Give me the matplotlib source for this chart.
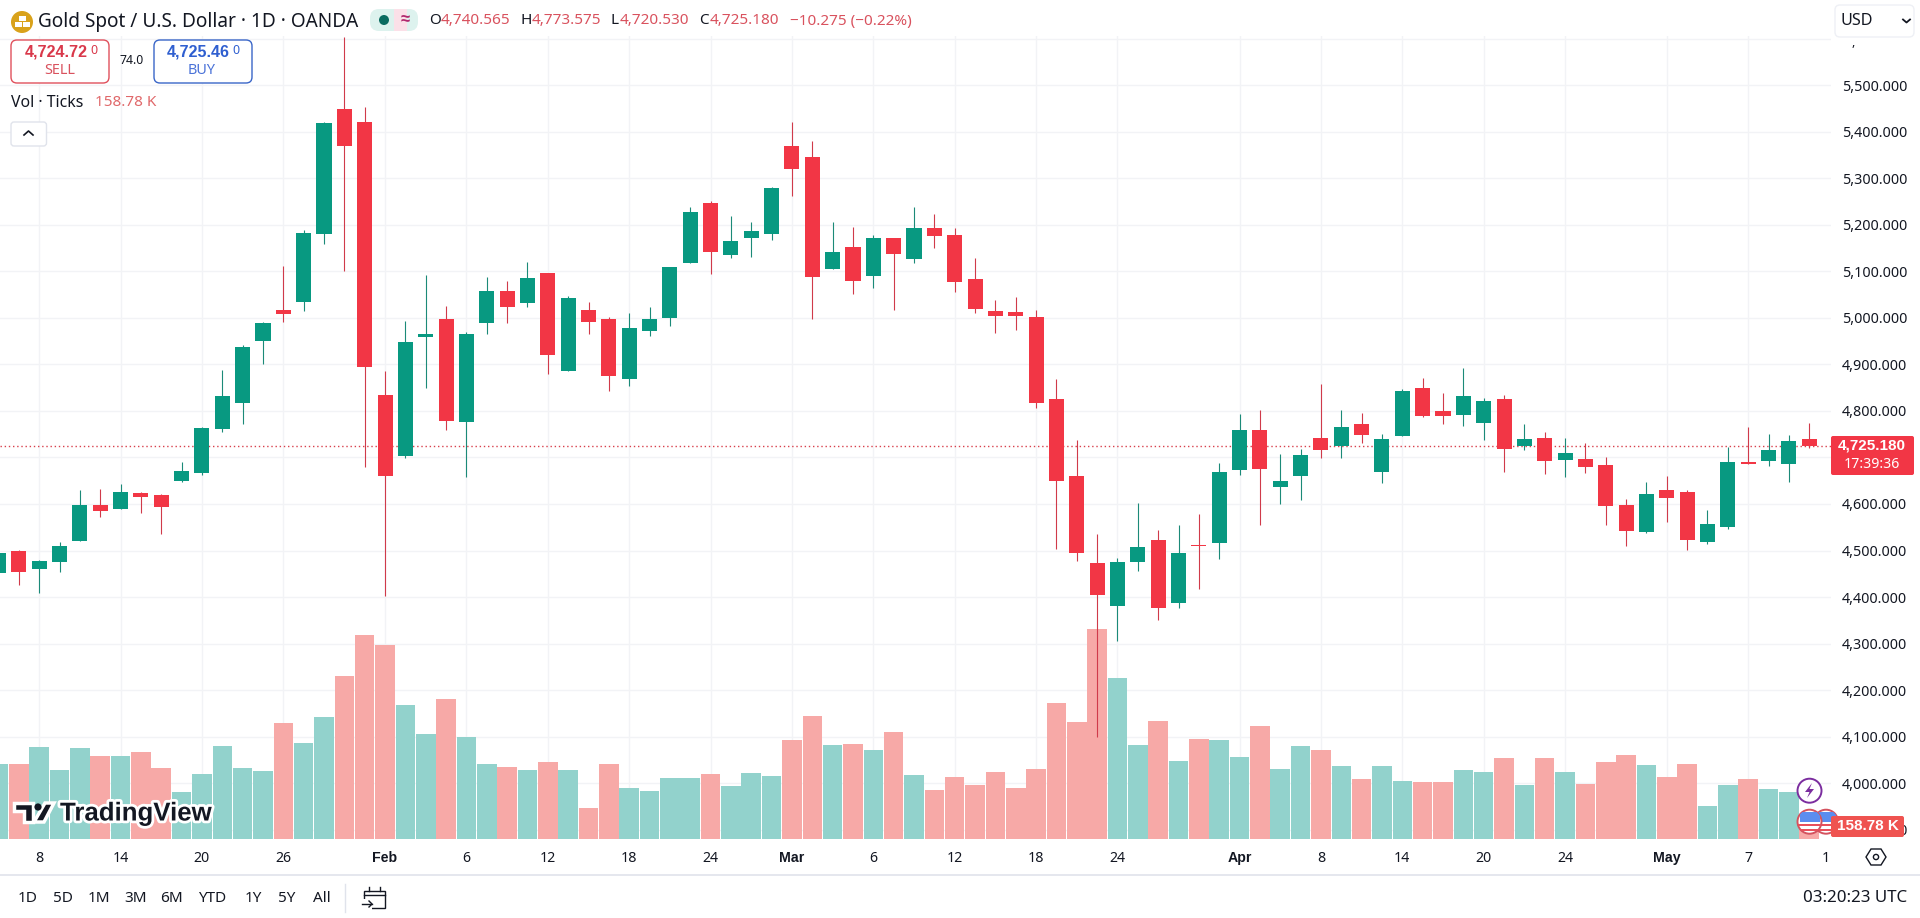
import matplotlib
matplotlib.use("Agg")
from matplotlib import pyplot as plt
from matplotlib.patches import Circle, FancyBboxPatch, Polygon, Rectangle, Wedge
from matplotlib.transforms import Affine2D
import matplotlib.patheffects as pe

plt.rcParams['font.family'] = ['Noto Sans', 'DejaVu Sans']
BOLD = ['Liberation Sans', 'DejaVu Sans']

W, H = 1920, 918

opens = [4452.3, 4499, 4460.7, 4476, 4521, 4597.5, 4589, 4623.8, 4619.6, 4648.5,
         4666, 4762, 4816, 4951, 5016, 5034, 5181, 5448.6, 5420.6, 4834.5,
         4702.8, 4959, 4997.6, 4776.7, 4989.9, 5057.9, 5032.4, 5096, 4886.3, 5017,
         4997.6, 4869.3, 4972, 5000.6, 5118.3, 5246.2, 5135.8, 5172.3, 5181, 5369.4,
         5345.6, 5105.6, 5152.4, 5090.5, 5171.5, 5127, 5193, 5177.9, 5083.3, 5014.9,
         5012.5, 5001.4, 4825.8, 4659.7, 4472.9, 4381.5, 4476, 4522, 4387.8, 4511.8,
         4516.6, 4674, 4759, 4637.5, 4661, 4741.9, 4724.7, 4772, 4669.7, 4746.9,
         4849.2, 4799.8, 4792, 4774.8, 4825.6, 4724.7, 4741.9, 4695.4, 4696.8, 4684,
         4598.1, 4538.8, 4630.3, 4626, 4519.4, 4551.6, 4689.7, 4693.3, 4686.8, 4740.565]
closes = [4494.7, 4454.8, 4477.7, 4510, 4597.5, 4585.6, 4624.7, 4615.3, 4593, 4670.6,
          4763, 4832, 4937, 4989, 5008.6, 5181.9, 5418.9, 5368.7, 4894, 4660.4,
          4948.3, 4965, 4779.3, 4965.3, 5057.9, 5023.9, 5085.9, 4921, 5042.6, 4991.6,
          4876, 4978, 4997.5, 5108.7, 5227, 5142, 5165, 5186.6, 5278.8, 5320.2,
          5088, 5141.3, 5080, 5171.5, 5138, 5193, 5176.3, 5077.7, 5019.7, 5004.6,
          5004.6, 4817.8, 4650, 4495.2, 4405.3, 4475.3, 4507, 4377.5, 4494.4, 4510.2,
          4668.4, 4759, 4675.6, 4649.6, 4705.4, 4716.9, 4765.5, 4749, 4739.8, 4842.8,
          4789.1, 4789.8, 4832, 4821.3, 4719, 4739.8, 4693.3, 4709.7, 4679.7, 4596.7,
          4543, 4621.7, 4613.9, 4523.7, 4557.3, 4690.4, 4686.8, 4716.2, 4735.5, 4725.18]
highs = [4500, 4501.5, 4480, 4518.5, 4629, 4633, 4643.4, 4625, 4620.4, 4690,
         4766, 4888, 4940.6, 4990.8, 5111.4, 5189.5, 5420.6, 5603, 5452.8, 4885.4,
         4994, 5091.8, 5025.6, 4970.4, 5087.6, 5079, 5119.9, 5097, 5046, 5034,
         5001, 5009.4, 5022.9, 5109, 5237.5, 5250, 5218.4, 5205.7, 5282, 5421,
         5379.8, 5205.7, 5194.6, 5177, 5172, 5239, 5223.2, 5193, 5128.6, 5038,
         5044.4, 5016.5, 4868.7, 4737.6, 4535.7, 4484, 4601.6, 4544.4, 4554.8, 4579.4,
         4687.5, 4793.2, 4802, 4707.6, 4718.3, 4857.8, 4802, 4795.5, 4750.5, 4846.3,
         4870.7, 4837.8, 4892, 4827, 4833.5, 4772, 4754.8, 4741.9, 4731.2, 4701.1,
         4611, 4647.5, 4660.3, 4630.3, 4587.4, 4723.3, 4765.5, 4750.5, 4748.3, 4773.575]
lows = [4445, 4425, 4409.8, 4454.8, 4521, 4571, 4589, 4581, 4535.5, 4648,
        4663, 4755, 4771.6, 4900.7, 4991.6, 5015.4, 5159, 5099.5, 4680, 4402,
        4698.6, 4849.7, 4759.7, 4657, 4965.3, 4989, 5022.2, 4879.5, 4886, 4965,
        4843, 4854, 4961.7, 4982.4, 5118, 5094.4, 5129.4, 5131, 5167.6, 5262.1,
        4998.2, 5105, 5051.5, 5065, 5015.7, 5118, 5150.9, 5056.3, 5010.2, 4967.2,
        4973.6, 4806.7, 4503.9, 4478.5, 4100, 4305.2, 4457, 4351.3, 4377.5, 4418,
        4482.4, 4662.8, 4554.8, 4600.3, 4608.9, 4699.7, 4699.7, 4731.9, 4646, 4746,
        4787, 4772.7, 4767.7, 4738.3, 4669, 4716, 4664.6, 4658.9, 4667.5, 4555,
        4510, 4538, 4561.6, 4501.6, 4515, 4547.3, 4686, 4681.8, 4647.5, 4720.53]
volumes = [916, 916, 1123, 842, 1111, 1013, 1013, 1062, 867, 574,
           794, 1136, 867, 830, 1416, 1172, 1490, 1990, 2491, 2369,
           1636, 1282, 1709, 1245, 916, 879, 842, 940, 842, 379,
           916, 623, 586, 745, 745, 794, 647, 806, 769, 1209,
           1502, 1148, 1160, 1087, 1306, 781, 598, 757, 659, 818,
           623, 855, 1661, 1429, 2564, 1966, 1148, 1441, 952, 1221,
           1209, 1001, 1380, 855, 1136, 1087, 891, 733, 891, 708,
           696, 696, 842, 818, 989, 659, 989, 818, 672, 940,
           1026, 904, 757, 916, 403, 659, 733, 610, 574, 158.78]

tick_bars = [2, 6, 10, 14, 19, 23, 27, 31, 35, 39, 43, 47, 51, 55, 61, 65, 69, 73, 77, 82, 86]
tick_labels = ['8', '14', '20', '26', 'Feb', '6', '12', '18', '24', 'Mar', '6', '12',
               '18', '24', 'Apr', '8', '14', '20', '24', 'May', '7']
month_labels = ['Feb', 'Mar', 'Apr', 'May']
price_ticks = [3900 + 100 * i for i in range(18)]
hidden_prices = [4700, 5600]  # sit behind the last price tag / the USD button
last_price = 4725.18
ranges = ['1D', '5D', '1M', '3M', '6M', 'YTD', '1Y', '5Y', 'All']
range_x = [27.5, 62.5, 98.5, 135.5, 171.5, 212.5, 253, 287, 322]

GREEN = '#089981'
RED = '#F23645'
GRID = '#F2F3F6'
INK = '#131722'
BORDER = '#E0E3EB'

fig = plt.figure(figsize=(W / 100, H / 100), dpi=100, facecolor='white')

# chart area in pixels: x 0-1831, y 36-839
rect = [0, (H - 839) / H, 1831 / W, (839 - 36) / H]
ax = fig.add_axes(rect)
ax_vol = ax.twinx()
ax_top = ax.twinx()
ax.set_zorder(1)
ax_vol.set_zorder(2)
ax_top.set_zorder(3)

xlim = ((0 + 1.5) / 20.345, (1831 + 1.5) / 20.345)
ylim = (3880.3, 5605.4)
for a in (ax, ax_vol, ax_top):
    a.set_xlim(xlim)
    for s in a.spines.values():
        s.set_visible(False)
ax.set_ylim(ylim)
ax_top.set_ylim(ylim)
ax_vol.set_ylim(0, 9805)
ax_vol.set_yticks([])
ax_top.set_yticks([])
ax.yaxis.tick_right()

ax.set_yticks(price_ticks)
ax.set_yticklabels(['' if p in hidden_prices else f'{p:,.3f}' for p in price_ticks])
ax.tick_params(axis='y', length=0, pad=8, labelsize=10.3, labelcolor=INK)
for lab in ax.get_yticklabels():
    lab.set_verticalalignment('center_baseline')
ax.set_xticks(tick_bars)
ax.set_xticklabels(tick_labels)
ax.tick_params(axis='x', length=0, pad=8.5, labelsize=10.2, labelcolor=INK)
for lab in ax.get_xticklabels():
    if lab.get_text() in month_labels:
        lab.set_fontweight('bold')
        lab.set_fontfamily(BOLD)
ax.grid(True, color=GRID, linewidth=1)
ax.set_axisbelow(True)

xs = list(range(len(opens)))
up = [c >= o for o, c in zip(opens, closes)]

ax_vol.bar(xs, volumes, width=0.96, linewidth=0,
           color=['#92D2CC' if u else '#F7A9A7' for u in up])

ax.axhline(last_price, color='#D8404C', linewidth=1, linestyle=(0, (1, 2)), zorder=1.5)
ax_top.vlines(xs, lows, highs, colors=['#1B8A78' if u else '#D03A4A' for u in up], linewidth=0.8)
ax_top.bar(xs, [abs(c - o) for o, c in zip(opens, closes)],
           bottom=[min(o, c) for o, c in zip(opens, closes)], width=0.74, linewidth=0,
           color=[GREEN if u else RED for u in up], zorder=3)

# ---- everything below is the TradingView interface, placed in pixels
px = Affine2D().scale(1, -1).translate(0, H)


def text(x, y, s, size=10.3, color=INK, ha='left', weight='normal', **kw):
    if weight == 'bold':
        kw['family'] = BOLD
    return fig.text(x, y, s, transform=px, fontsize=size, color=color, ha=ha, va='center',
                    fontweight=weight, zorder=10, **kw)


def box(x0, y0, x1, y1, face='white', edge='none', radius=4, lw=1, z=9):
    p = FancyBboxPatch((x0 + radius, y0 + radius), x1 - x0 - 2 * radius, y1 - y0 - 2 * radius,
                       boxstyle=f'round,pad={radius},rounding_size={radius}', transform=px,
                       facecolor=face, edgecolor=edge, linewidth=lw, zorder=z)
    fig.add_artist(p)
    return p


def add(p, z=10):
    p.set_transform(px)
    p.set_zorder(z)
    fig.add_artist(p)
    return p


def line(xv, yv, color=INK, lw=1, z=10):
    fig.add_artist(plt.Line2D(xv, yv, transform=px, color=color, linewidth=lw, zorder=z))


def flag(cx, cy, r, z):
    base = add(Circle((cx, cy), r, facecolor='white', edgecolor='#D4525E', linewidth=1.4), z)
    for k in range(2):
        s = add(Rectangle((cx - r, cy + 2 + k * 5), 2 * r, 2.5, facecolor='#E8505B', edgecolor='none'), z)
        s.set_clip_path(base)
    c = add(Rectangle((cx - r + 2, cy - r + 2), 2 * r - 4, r - 2, facecolor='#5B8DEF', edgecolor='none'), z)
    c.set_clip_path(base)


# header band
add(Rectangle((0, 0), W, 36, facecolor='white', edgecolor='none'), 4)

# gold logo
add(Circle((22, 22), 11, facecolor='#D9A21B', edgecolor='none'))
add(Rectangle((18.5, 16), 7, 5, facecolor='white', edgecolor='none'), 11)
add(Rectangle((14.5, 22), 7, 5, facecolor='white', edgecolor='none'), 11)
add(Rectangle((22.5, 22), 7, 5, facecolor='white', edgecolor='none'), 11)
text(38, 22, 'Gold Spot / U.S. Dollar · 1D · OANDA', size=13.7)

box(370, 9, 418, 31, face='#DDF2EE', radius=9)
add(Wedge((394, 20), 11, -90, 90, facecolor='#FBE0E8', edgecolor='none'), 9.5)
add(Rectangle((394, 9), 13, 22, facecolor='#FBE0E8', edgecolor='none'), 9.5)
add(Circle((384, 20), 5, facecolor='#0B6B60', edgecolor='none'))
text(405, 20, '≈', size=12, color='#B0286E', ha='center', weight='bold')

OHLC = '#D9525E'
text(429, 21, 'O', size=11)
text(441, 21, '4,740.565', size=11, color=OHLC)
text(520, 21, 'H', size=11)
text(532, 21, '4,773.575', size=11, color=OHLC)
text(611, 21, 'L', size=11)
text(620, 21, '4,720.530', size=11, color=OHLC)
text(699, 21, 'C', size=11)
text(710, 21, '4,725.180', size=11, color=OHLC)
text(790, 21, '−10.275 (−0.22%)', size=11, color=OHLC)

# buy/sell boxes
box(11, 40, 109, 83, edge='#E0505C', radius=6, lw=1)
text(24.5, 52, '4,724.72', size=11.6, color='#D9384A', weight='bold')
text(90, 50, '0', size=9, color='#D9384A')
text(59.5, 71, 'SELL', size=10.4, color='#D9525E', ha='center')
text(131.5, 61, '74.0', size=8.8, ha='center')
box(154, 40, 252, 83, edge='#3A66C8', radius=6, lw=1)
text(167, 52, '4,725.46', size=11.6, color='#2F5FD0', weight='bold')
text(232, 50, '0', size=9, color='#2F5FD0')
text(202, 71, 'BUY', size=10.4, color='#4A72D8', ha='center')

text(11, 103, 'Vol · Ticks', size=11.4)
text(95, 103, '158.78 K', size=11, color='#E0686A')
box(11, 122, 46.5, 146, edge=BORDER, radius=3)
line([24, 28.5, 33], [135, 131, 135], lw=1.2)

# top right
box(1835, 5, 1914, 37, edge='#EEF0F5', radius=5)
text(1840, 21, 'USD', size=11.6)
line([1903, 1906.5, 1910], [19.5, 22.5, 19.5], lw=1.3)
text(1851, 42, ',', size=9)

# last price and volume labels
box(1831, 436, 1914, 475, face=RED, radius=2)
text(1872, 446, '4,725.180', size=11, color='white', ha='center', weight='bold')
text(1872, 464, '17:39:36', size=10.2, color='white', ha='center')

add(Circle((1809.5, 790.7), 12, facecolor='white', edgecolor='#7B2D9F', linewidth=1.4))
add(Polygon([(1812, 783), (1805, 792), (1809.5, 792), (1807, 798), (1814, 789), (1809.5, 789)],
            facecolor='#7B2D9F', edgecolor='none'))
flag(1826, 821.7, 12, 10)
flag(1809.5, 821.7, 12, 10.2)
box(1831, 816, 1904, 837, face='#EF5350', radius=2, z=10.4)
t = text(1867.5, 826.5, '158.78 K', size=11, color='white', ha='center', weight='bold')
t.set_zorder(10.5)

# time axis
text(1826, 858, '1', size=10.2, ha='center')
add(Polygon([(1866, 857), (1871, 849), (1881, 849), (1886, 857), (1881, 865), (1871, 865)],
            facecolor='white', edgecolor=INK, linewidth=1))
add(Circle((1876, 857), 2.6, facecolor='white', edgecolor=INK, linewidth=1), 11)
line([0, W], [874.5, 874.5], color=BORDER, lw=1.2)

# watermark
halo = [pe.withStroke(linewidth=4, foreground='white')]
hl = dict(facecolor='#131722', edgecolor='white', linewidth=2.5)
add(Polygon([(14, 803), (33, 803), (33, 822), (24, 822), (24, 811), (14, 811)], **hl), 10)
add(Polygon([(45, 803), (54, 803), (44, 822), (34, 822)], **hl), 10)
add(Circle((38, 807), 3.6, facecolor='#131722', edgecolor='none'), 10.2)
t = text(60, 813.5, 'TradingView', size=18.6, weight='bold', path_effects=halo)

# bottom toolbar
for s, x in zip(ranges, range_x):
    text(x, 898, s, size=11, ha='center')
line([345, 345], [884, 912], color=BORDER)
add(Rectangle((364, 891), 21, 17, facecolor='white', edgecolor=INK, linewidth=1))
add(Rectangle((360, 899), 12, 12, facecolor='white', edgecolor='none'), 11)
line([364, 385], [895, 895], z=12)
line([369, 369], [887, 891], z=12)
line([380, 380], [887, 891], z=12)
line([362, 372], [904, 904], z=12)
line([369, 372, 369], [901, 904, 907], z=12)
text(1907, 898, '03:20:23 UTC', size=12.2, ha='right')

fig.savefig('out.png', dpi=100, facecolor='white')
